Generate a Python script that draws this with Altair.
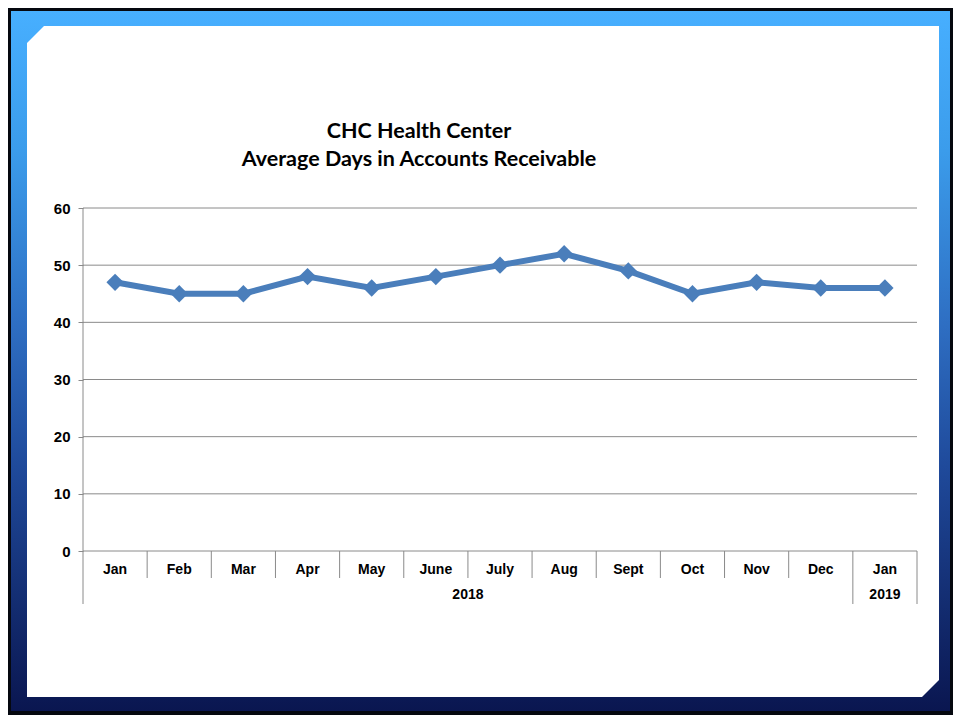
import altair as alt
import pandas as pd

# ---- data ----
months = ["Jan", "Feb", "Mar", "Apr", "May", "June", "July", "Aug", "Sept", "Oct", "Nov", "Dec", "Jan"]
days = [47, 45, 45, 48, 46, 48, 50, 52, 49, 45, 47, 46, 46]
years = ["2018", "2019"]
year_centers = [6.0, 12.5]
y_ticks = [0, 10, 20, 30, 40, 50, 60]
title_lines = ["CHC Health Center", "Average Days in Accounts Receivable"]

W, H = 834, 343
GRAY = "#8a8a8a"
LINE_BLUE = "#4a7ebb"

df = pd.DataFrame({"pos": [i + 0.5 for i in range(len(months))], "month": months, "days": days})
one = pd.DataFrame({"a": [0]})
xscale = alt.Scale(domain=[0, len(months)], nice=False, zero=False)
yscale = alt.Scale(domain=[0, 60], nice=False)
yaxis_def = alt.Axis(values=y_ticks, grid=False, domain=False, tickColor=GRAY,
                     tickSize=5, labelFont="Liberation Sans", labelFontWeight="bold",
                     labelFontSize=15, labelColor="black", labelPadding=8, zindex=1,
                     title=None)

# ---- decorative frame ----
grad = alt.LinearGradient(
    gradient="linear",
    stops=[
        alt.GradientStop(offset=0, color="#47afff"),
        alt.GradientStop(offset=0.2, color="#3b9ceb"),
        alt.GradientStop(offset=0.45, color="#2e6ec2"),
        alt.GradientStop(offset=0.65, color="#1f4a9b"),
        alt.GradientStop(offset=1, color="#0a1650"),
    ],
    x1=0, x2=0, y1=0, y2=1,
)
frame = alt.Chart(one).mark_rect(color=grad).encode(
    x=alt.value(-72), x2=alt.value(867), y=alt.value(-197), y2=alt.value(503)
)
white_path = "M-56,-165 L-39,-182 L856,-182 L856,472 L839,489 L-56,489 Z"
white = alt.Chart(one).mark_point(
    shape=white_path, size=4, filled=True, fill="white", opacity=1, strokeWidth=0
).encode(x=alt.value(0), y=alt.value(0))

# ---- gridlines + y axis ----
grid_df = pd.DataFrame({"days": y_ticks})
grid = alt.Chart(grid_df).mark_rule(color=GRAY, strokeWidth=1).encode(
    y=alt.Y("days:Q", scale=yscale, axis=yaxis_def),
    x=alt.value(0), x2=alt.value(W),
)
yline = alt.Chart(one).mark_rule(color=GRAY).encode(
    x=alt.value(0), y=alt.value(0), y2=alt.value(396)
)

# ---- category separators ----
short_b = pd.DataFrame({"b": list(range(1, 12))})
long_b = pd.DataFrame({"b": [12, 13]})
sep_short = alt.Chart(short_b).mark_rule(color=GRAY).encode(
    x=alt.X("b:Q", scale=xscale, axis=None), y=alt.value(H), y2=alt.value(H + 27)
)
sep_long = alt.Chart(long_b).mark_rule(color=GRAY).encode(
    x=alt.X("b:Q", scale=xscale, axis=None), y=alt.value(H), y2=alt.value(H + 53)
)

month_text = alt.Chart(df).mark_text(
    font="Liberation Sans", fontWeight="bold", fontSize=14, color="black", baseline="middle"
).encode(x=alt.X("pos:Q", scale=xscale, axis=None), y=alt.value(H + 19), text="month:N")

year_df = pd.DataFrame({"c": year_centers, "year": years})
year_text = alt.Chart(year_df).mark_text(
    font="Liberation Sans", fontWeight="bold", fontSize=14, color="black", baseline="middle"
).encode(x=alt.X("c:Q", scale=xscale, axis=None), y=alt.value(H + 44), text="year:N")

# ---- data line ----
line = alt.Chart(df).mark_line(color=LINE_BLUE, strokeWidth=6).encode(
    x=alt.X("pos:Q", scale=xscale, axis=None), y=alt.Y("days:Q", scale=yscale, axis=yaxis_def)
)
pts = alt.Chart(df).mark_point(
    shape="diamond", filled=True, color=LINE_BLUE, size=300, opacity=1
).encode(x=alt.X("pos:Q", scale=xscale, axis=None), y=alt.Y("days:Q", scale=yscale, axis=yaxis_def))

# ---- title ----
title_df = pd.DataFrame({"t": title_lines, "yy": [-76, -48]})
title = alt.Chart(title_df).mark_text(
    font="Lato", fontWeight="bold", fontSize=21.5, color="black", baseline="middle"
).encode(x=alt.value(336), y=alt.Y("yy:Q", scale=None), text="t:N")

chart = alt.layer(
    frame, white, grid, yline, sep_short, sep_long, month_text, year_text, line, pts, title
).properties(
    width=W, height=H,
    autosize=alt.AutoSizeParams(type="none"),
    padding={"left": 75, "top": 200, "right": 36, "bottom": 164},
).configure(background="#05080f").configure_view(stroke=None)

chart.save("out.html", embed_options={"renderer": "svg", "actions": False})
